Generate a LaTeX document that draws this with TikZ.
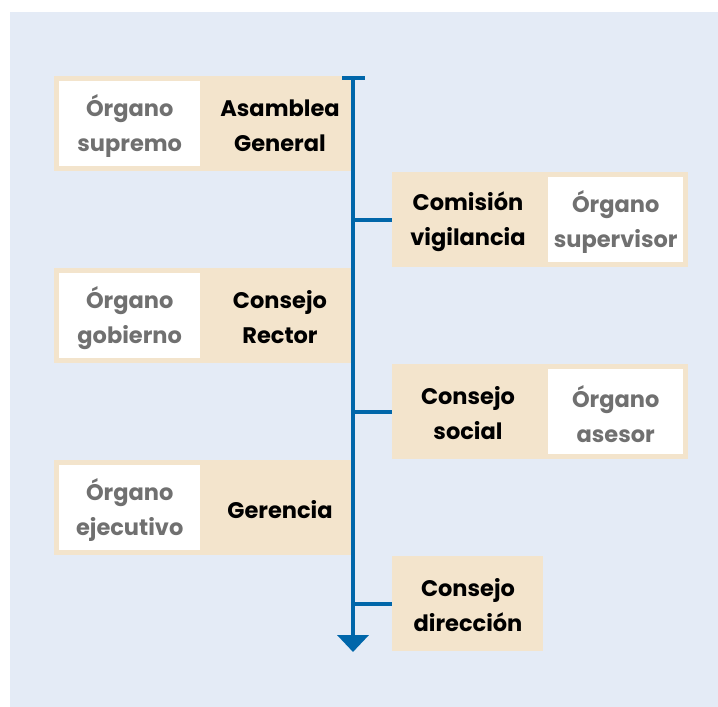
\documentclass[tikz,border=0pt]{standalone}
\usepackage{fontspec}
\setmainfont{Poppins}
\usetikzlibrary{arrows.meta, positioning}

\definecolor{pageblue}{RGB}{228,235,246}
\definecolor{paleorange}{RGB}{243,228,204}
\definecolor{spineblue}{RGB}{0,102,170}
\definecolor{rolegray}{RGB}{112,112,112}

\tikzset{
  orgbox/.style={fill=paleorange, draw=none, inner sep=0pt, anchor=north west, minimum height=95pt},
  rolebox/.style={fill=white, draw=none, inner sep=0pt, minimum width=141pt, minimum height=85pt,
    align=center, text=rolegray, font=\bfseries\fontsize{22.5}{35}\selectfont},
  rolelabel/.style={align=center, text=rolegray, inner sep=0pt, font=\bfseries\fontsize{22.5}{35}\selectfont},
  unitlabel/.style={align=center, text=black, font=\bfseries\fontsize{22.5}{35}\selectfont},
  spine/.style={draw=spineblue, line width=4pt},
  branch/.style={draw=spineblue, line width=4pt}
}

\begin{document}
\begin{tikzpicture}[x=1pt, y=-1pt]
  \useasboundingbox (0,0) rectangle (718,707);
  \fill[pageblue] (10,12) rectangle (718,707);

  \node[orgbox, minimum width=298pt] (asambleaBox) at (54,76) {};
  \node[orgbox, minimum width=298pt] (rectorBox) at (54,268) {};
  \node[orgbox, minimum width=298pt] (gerenciaBox) at (54,460) {};
  \node[orgbox, minimum width=296pt] (vigilanciaBox) at (392,172) {};
  \node[orgbox, minimum width=296pt] (socialBox) at (392,364) {};
  \node[orgbox, minimum width=151pt] (direccionBox) at (392,556) {};

  \node[rolebox, anchor=west] (supremoBox) at ([xshift=5pt]asambleaBox.west) {};
  \node[rolebox, anchor=west] (gobiernoBox) at ([xshift=5pt]rectorBox.west) {};
  \node[rolebox, anchor=west] (ejecutivoBox) at ([xshift=5pt]gerenciaBox.west) {};
  \node[rolebox, minimum width=135pt, anchor=east] (supervisorBox) at ([xshift=-5pt]vigilanciaBox.east) {};
  \node[rolebox, minimum width=135pt, anchor=east] (asesorBox) at ([xshift=-5pt]socialBox.east) {};

  \node[rolelabel] (supremo) at ([yshift=-2pt]supremoBox.center) {Órgano\\supremo};
  \node[rolelabel] (gobierno) at ([yshift=-2pt]gobiernoBox.center) {Órgano\\gobierno};
  \node[rolelabel] (ejecutivo) at ([yshift=-2pt]ejecutivoBox.center) {Órgano\\ejecutivo};
  \node[rolelabel] (supervisor) at ([yshift=-2pt]supervisorBox.center) {Órgano\\supervisor};
  \node[rolelabel] (asesor) at ([yshift=-2pt]asesorBox.center) {Órgano\\asesor};

  \node[unitlabel] (asamblea) at (280,125.5) {Asamblea\\General};
  \node[unitlabel] (rector) at (280,317.5) {Consejo\\Rector};
  \node[unitlabel] (gerencia) at (280,509.5) {Gerencia};
  \node[unitlabel] (vigilancia) at (468,221.5) {Comisión\\vigilancia};
  \node[unitlabel] (social) at (468,413.5) {Consejo\\social};
  \node[unitlabel] (direccion) at (468,605.5) {Consejo\\dirección};

  \coordinate (spineTop) at (353,78);
  \coordinate (spineEnd) at (353,652);
  \coordinate (capLeft) at (342,78);
  \coordinate (capRight) at (365,78);

  \draw[spine, -{Triangle[width=31pt, length=17pt]}] (spineTop) -- (spineEnd);
  \draw[spine] (capLeft) -- (capRight);
  \draw[branch] (spineTop |- vigilanciaBox.west) -- (vigilanciaBox.west);
  \draw[branch] (spineTop |- socialBox.west) -- (socialBox.west);
  \draw[branch] (spineTop |- direccionBox.west) -- (direccionBox.west);
\end{tikzpicture}
\end{document}
